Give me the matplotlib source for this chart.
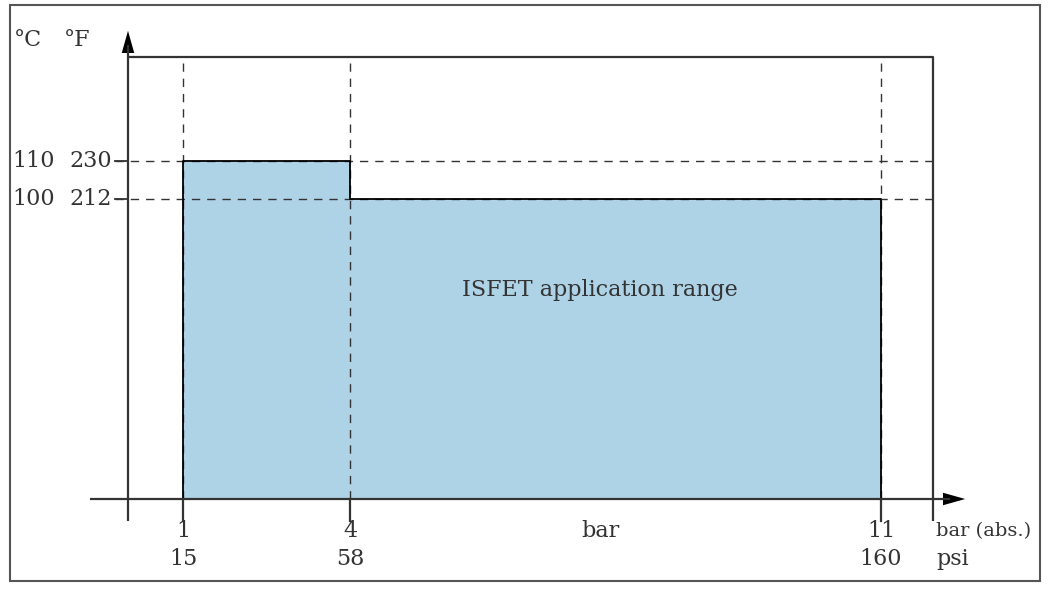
import numpy as np
import matplotlib
matplotlib.use("Agg")
import matplotlib.pyplot as plt
from matplotlib.transforms import Affine2D, blended_transform_factory

# pressure breakpoints (bar abs.) and matching psi labels
pressure_bar = [1, 4, 11]
pressure_psi = [15, 58, 160]
# max temperature (degC) for each pressure step, with degF labels
temp_c = [110, 100]
temp_f = [230, 212]
area_label = "ISFET application range"

W, H = 1051, 592
ink = "#333333"
fill_col = "#aed3e6"
plt.rcParams["font.family"] = ["DejaVu Serif"]

fig = plt.figure(figsize=(W / 100, H / 100), dpi=100)
# pixel helper (x from left, y from top)
T = Affine2D().scale(1 / W, -1 / H).translate(0, 1) + fig.transFigure

# axes = inner diagram frame
ax_l, ax_t, ax_r, ax_b = 128, 57, 933, 499
ax = fig.add_axes([ax_l / W, 1 - ax_b / H, (ax_r - ax_l) / W, (ax_b - ax_t) / H])
ax.axis("off")

# the pressure axis is not to scale: piecewise mapping
p_anchor = [0, 1, 4, 11, 12]
u_anchor = [0, 55, 222, 753, 805]
ax.set_xscale("function", functions=(lambda p: np.interp(p, p_anchor, u_anchor),
                                     lambda u: np.interp(u, u_anchor, p_anchor)))
ax.set_xlim(0, 12)
px_per_deg = 3.8
y_lo = temp_c[1] - (ax_b - 199) / px_per_deg
y_hi = temp_c[0] + (161 - ax_t) / px_per_deg
ax.set_ylim(y_lo, y_hi)

# application area
xs = [pressure_bar[0], pressure_bar[1], pressure_bar[1], pressure_bar[2]]
ys = [temp_c[0], temp_c[0], temp_c[1], temp_c[1]]
ax.fill_between(xs, ys, y_lo, color=fill_col, lw=0, zorder=1)
ax.plot([xs[0]] + xs + [xs[-1]], [y_lo] + ys + [y_lo], color="black", lw=1.3, zorder=3)

# dashed guides
dash = (0, (6, 5))
bx = blended_transform_factory(T, ax.transData)
for t in temp_c:
    ax.plot([115, ax_r], [t, t], transform=bx, color=ink, lw=1.0, ls=dash,
            zorder=2, clip_on=False)
    ax.plot([115, ax_l], [t, t], transform=bx, color=ink, lw=1.3, clip_on=False)
for p in pressure_bar:
    ax.plot([p, p], [y_lo, y_hi - 6 / px_per_deg], color=ink, lw=1.0, ls=dash, zorder=2)

# frame and arrows
def line(xy, lw=1.6):
    xy = np.array(xy)
    ax.plot(xy[:, 0], xy[:, 1], transform=T, color=ink, lw=lw, clip_on=False,
            solid_capstyle="butt", zorder=4)

line([(ax_l, 45), (ax_l, 521)])
line([(ax_l, ax_t), (ax_r, ax_t), (ax_r, 521)])
line([(90, ax_b), (950, ax_b)])
head = dict(arrowstyle="-|>,head_length=1.6,head_width=0.45", color="black", lw=0)
ax.annotate("", xy=(968, ax_b), xytext=(935, ax_b), xycoords=T, textcoords=T,
            arrowprops=head, annotation_clip=False)
ax.annotate("", xy=(ax_l, 28), xytext=(ax_l, 60), xycoords=T, textcoords=T,
            arrowprops=head, annotation_clip=False)
bxp = blended_transform_factory(ax.transData, T)
for p in pressure_bar:
    ax.plot([p, p], [ax_b, 521], transform=bxp, color=ink, lw=1.6, clip_on=False)

# outer border
fig.patches.append(plt.Rectangle((10, 581), 1030, -576, transform=T, fill=False,
                                 ec="#555555", lw=1.5))

fs = 16
for p, b, s in zip(pressure_bar, pressure_bar, pressure_psi):
    ax.text(p, 531, str(b), transform=bxp, ha="center", va="center", fontsize=fs, color=ink)
    ax.text(p, 559, str(s), transform=bxp, ha="center", va="center", fontsize=fs, color=ink)
ax.text(600, 531, "bar", transform=T, ha="center", va="center", fontsize=fs, color=ink)
ax.text(936, 531, "bar (abs.)", transform=T, ha="left", va="center", fontsize=14, color=ink)
ax.text(936, 559, "psi", transform=T, ha="left", va="center", fontsize=fs, color=ink)
for c, f in zip(temp_c, temp_f):
    ax.text(12, c, f"{c}", transform=bx, ha="left", va="center", fontsize=fs, color=ink)
    ax.text(112, c, f"{f}", transform=bx, ha="right", va="center", fontsize=fs, color=ink)
ax.text(14, 40, "°C", transform=T, ha="left", va="center", fontsize=fs, color=ink)
ax.text(64, 40, "°F", transform=T, ha="left", va="center", fontsize=fs, color=ink)
ax.text(600, 290, area_label, transform=T, ha="center", va="center", fontsize=fs, color=ink)

fig.savefig("out.png", dpi=100)
